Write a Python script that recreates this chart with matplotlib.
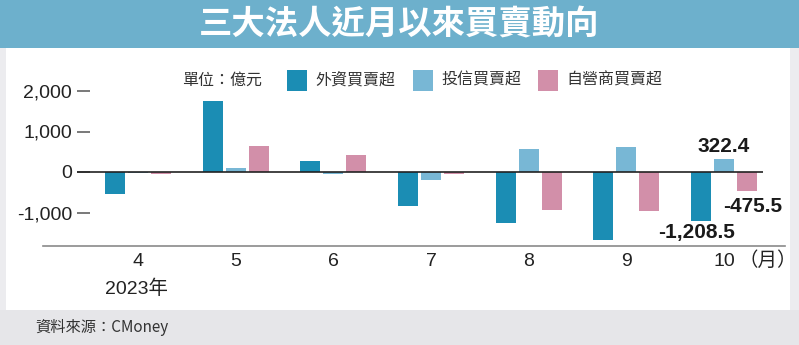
import matplotlib
matplotlib.use("Agg")
import matplotlib.pyplot as plt
from matplotlib.patches import Rectangle
from matplotlib.lines import Line2D
import numpy as np

months = ["4", "5", "6", "7", "8", "9", "10"]
foreign = [-540, 1760, 270, -840, -1260, -1690, -1208.5]
trust = [-30, 90, -50, -200, 560, 620, 322.4]
dealer = [-60, 635, 420, -50, -940, -955, -475.5]
series_names = ["外資買賣超", "投信買賣超", "自營商買賣超"]
yticks = [-1000, 0, 1000, 2000]
ytick_labels = ["-1,000", "0", "1,000", "2,000"]

c_foreign = "#1b8db4"
c_trust = "#78b7d5"
c_dealer = "#d28fa9"
colors = [c_foreign, c_trust, c_dealer]

W, H = 799, 345
fig = plt.figure(figsize=(W / 100, H / 100), dpi=100)
fig.patch.set_facecolor("#ececef")

def fx(px):
    return px / W

def fy(py):
    return 1 - py / H

# white panel
fig.patches.append(Rectangle((fx(6), fy(310)), fx(790) - fx(6), fy(48) - fy(310),
                             transform=fig.transFigure, facecolor="white", edgecolor="none", zorder=-2))
# footer band
fig.patches.append(Rectangle((0, 0), 1, fy(310), transform=fig.transFigure,
                             facecolor="#e6e6e9", edgecolor="none", zorder=-2))
# title band
fig.patches.append(Rectangle((0, fy(48)), 1, 1 - fy(48), transform=fig.transFigure,
                             facecolor="#6db0cc", edgecolor="none", zorder=-2))
fig.text(0.5, fy(25), "三大法人近月以來買賣動向", ha="center", va="center",
         color="white", fontsize=24, fontweight="bold", family=["Noto Sans CJK TC"])

# axes
left_px, right_px, top_px, bot_px = 77, 763, 60, 245
ax = fig.add_axes([fx(left_px), fy(bot_px), fx(right_px) - fx(left_px), fy(top_px) - fy(bot_px)])
ax.set_zorder(1)
ax.set_facecolor("none")
px_per_unit = (724 - 138) / 6
x0 = -(138 - left_px) / px_per_unit
x1 = (right_px - 138) / px_per_unit
ax.set_xlim(x0, x1)
ppk = 40.5
ax.set_ylim(-(bot_px - 172) / ppk * 1000, (172 - top_px) / ppk * 1000)

x = np.arange(len(months))
bw = 20 / px_per_unit
off = 23 / px_per_unit
for i, (vals, col) in enumerate(zip([foreign, trust, dealer], colors)):
    ax.bar(x + (i - 1) * off, vals, width=bw, color=col, zorder=2)

ax.axhline(0, color="#222222", lw=1.2, zorder=3)
for s in ax.spines.values():
    s.set_visible(False)

ax.set_yticks(yticks)
ax.set_yticklabels(ytick_labels)
ax.tick_params(axis="y", direction="in", length=9.5, width=1.1, color="#555555",
               pad=3.6, labelsize=14, labelcolor="#222222")
for lab in ax.get_yticklabels():
    lab.set_family(["Liberation Sans"])

ax.set_xticks(x)
ax.set_xticklabels(months)
ax.tick_params(axis="x", length=0, pad=6, labelsize=14, labelcolor="#222222")
for lab in ax.get_xticklabels():
    lab.set_family(["Liberation Sans"])

# data labels for last month
lab_kw = dict(fontsize=15, fontweight="bold", color="#1a1a1a", family=["Liberation Sans"])
ax.annotate("322.4", (x[-1], trust[-1]), xytext=(0, 3), textcoords="offset pixels",
            ha="center", va="bottom", **lab_kw)
ax.annotate("-475.5", (x[-1] + off, dealer[-1]), xytext=(6, -15), textcoords="offset pixels",
            ha="center", va="center", **lab_kw)
ax.annotate("-1,208.5", (x[-1] - off, foreign[-1]), xytext=(-4, -12), textcoords="offset pixels",
            ha="center", va="center", **lab_kw)

# bottom rule
fig.lines.append(Line2D([fx(43), fx(785)], [fy(245.7), fy(245.7)], transform=fig.transFigure,
                        color="#8a8a8a", lw=1.2))

fig.text(fx(768), fy(260), "（月）", ha="center", va="center", fontsize=14, color="#222222",
         family=["Noto Sans CJK TC"])
fig.text(fx(137), fy(289), "2023年", ha="center", va="center", fontsize=14, color="#222222",
         family=["Liberation Sans", "Noto Sans CJK TC"])

# legend
fig.text(fx(182), fy(80), "單位：億元", ha="left", va="center", fontsize=11.5, color="#333333",
         family=["Noto Sans CJK TC"])
sq_x = [287, 413, 538]
for sx, col, name in zip(sq_x, colors, series_names):
    fig.patches.append(Rectangle((fx(sx), fy(90.5)), fx(20), fy(70) - fy(90.5),
                                 transform=fig.transFigure, facecolor=col, edgecolor="none"))
    fig.text(fx(sx + 28), fy(80), name, ha="left", va="center", fontsize=11.5, color="#333333",
             family=["Noto Sans CJK TC"])

# footer
fig.text(fx(35), fy(327), "資料來源：CMoney", ha="left", va="center", fontsize=11, color="#333333",
         family=["Noto Sans CJK TC", "Liberation Sans"])

fig.savefig("out.png", dpi=100, facecolor=fig.get_facecolor())
